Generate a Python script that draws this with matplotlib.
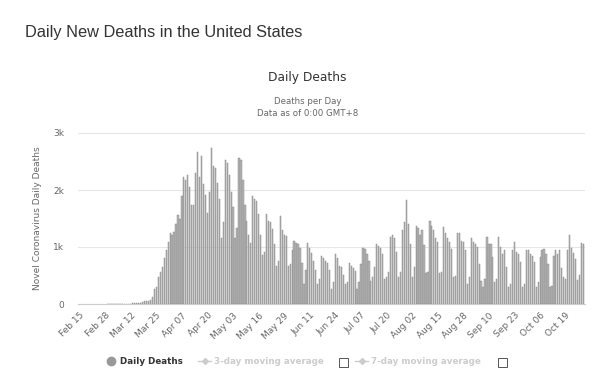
import matplotlib
matplotlib.use("Agg")
import matplotlib.pyplot as plt
import numpy as np
from matplotlib.lines import Line2D
from matplotlib.patches import Rectangle

# daily deaths, Feb 15 2020 (Sat) then one row per week Sun..Sat, ending Oct 28
first_day = [0]
weeks = [
    [0, 0, 0, 0, 0, 0, 0],
    [0, 0, 0, 0, 0, 0, 1],
    [1, 5, 1, 4, 1, 2, 3],
    [4, 4, 3, 7, 7, 10, 10],
    [12, 18, 23, 40, 56, 49, 46],
    [70, 130, 260, 300, 480, 570, 650],
    [800, 950, 1090, 1240, 1210, 1270, 1400],
    [1560, 1500, 1900, 2230, 2170, 2260, 2060],
    [1740, 1740, 2300, 2670, 2230, 2590, 2100],
    [1910, 1600, 1970, 2740, 2420, 2390, 2120],
    [1850, 1160, 1430, 2530, 2470, 2260, 1960],
    [1700, 1160, 1340, 2560, 2530, 2180, 1740],
    [1450, 1210, 1070, 1900, 1840, 1810, 1580],
    [1210, 860, 920, 1580, 1460, 1430, 1310],
    [1050, 670, 760, 1540, 1300, 1210, 1190],
    [670, 700, 950, 1110, 1070, 1050, 990],
    [720, 350, 590, 1070, 990, 900, 760],
    [590, 350, 440, 840, 810, 760, 720],
    [590, 260, 380, 880, 810, 670, 650],
    [510, 350, 380, 720, 670, 640, 580],
    [260, 380, 700, 990, 960, 880, 760],
    [410, 470, 650, 1050, 1020, 990, 880],
    [440, 470, 560, 1180, 1210, 1150, 920],
    [470, 560, 1300, 1440, 1825, 1400, 1050],
    [470, 650, 1370, 1330, 1210, 1300, 1040],
    [540, 570, 1460, 1370, 1300, 1150, 1090],
    [540, 570, 1350, 1250, 1150, 1090, 970],
    [470, 500, 1240, 1240, 1110, 1090, 940],
    [350, 470, 1150, 1090, 1060, 1000, 700],
    [410, 300, 440, 1180, 1060, 1060, 820],
    [380, 440, 1170, 1000, 880, 940, 650],
    [290, 350, 940, 1090, 920, 880, 730],
    [290, 350, 940, 940, 880, 850, 730],
    [290, 380, 820, 940, 970, 880, 700],
    [290, 320, 850, 940, 880, 940, 640],
    [470, 440, 950, 1210, 990, 900, 790],
]
last_days = [420, 510, 1070, 1050]

tick_labels = ["Feb 15", "Feb 28", "Mar 12", "Mar 25", "Apr 07", "Apr 20",
               "May 03", "May 16", "May 29", "Jun 11", "Jun 24", "Jul 07",
               "Jul 20", "Aug 02", "Aug 15", "Aug 28", "Sep 10", "Sep 23",
               "Oct 06", "Oct 19"]
y_ticks = [0, 1000, 2000, 3000]
y_tick_labels = ["0", "1k", "2k", "3k"]

daily_deaths = first_day + [v for week in weeks for v in week] + last_days
days = np.arange(len(daily_deaths))

W, H = 600, 389
fig = plt.figure(figsize=(W / 100, H / 100), dpi=100)
fig.patch.set_facecolor("white")


def fx(px):
    return px / W


def fy(py):
    return 1 - py / H


ax = fig.add_axes([fx(78), fy(304), fx(585) - fx(78), fy(133) - fy(304)])
edge_widths = [0.35 if v > 0 else 0 for v in daily_deaths]
ax.bar(days, daily_deaths, width=0.62, color="#b4b4b4",
       edgecolor="#8c8c8c", linewidth=edge_widths, zorder=3)
ax.set_xlim(-0.8, len(daily_deaths) - 0.2)
ax.set_ylim(0, 3000)

ax.set_yticks(y_ticks)
ax.set_yticklabels(y_tick_labels)
ax.yaxis.grid(True, color="#e6e6e6", linewidth=0.8, zorder=0)
ax.set_xticks(days[::13][:len(tick_labels)])
ax.set_xticklabels(tick_labels, rotation=45, ha="right", va="top",
                   rotation_mode="anchor")
ax.tick_params(axis="y", length=0, pad=10, labelsize=6.5, labelcolor="#666666")
ax.tick_params(axis="x", length=0, pad=5, labelsize=6.5, labelcolor="#666666")
for side in ["top", "right", "left"]:
    ax.spines[side].set_visible(False)
ax.spines["bottom"].set_color("#cccccc")
ax.spines["bottom"].set_linewidth(0.8)
ax.set_ylabel("Novel Coronavirus Daily Deaths", fontsize=6.5, color="#666666",
              labelpad=8)

fig.text(fx(25), fy(32), "Daily New Deaths in the United States",
         fontsize=11.8, family="Liberation Sans", color="#333333",
         ha="left", va="center")
fig.text(fx(307), fy(78), "Daily Deaths", fontsize=8.8, color="#333333",
         ha="center", va="center")
fig.text(fx(308), fy(102), "Deaths per Day", fontsize=6.2, color="#666666",
         ha="center", va="center")
fig.text(fx(308), fy(114), "Data as of 0:00 GMT+8", fontsize=6.2,
         color="#666666", ha="center", va="center")

# legend
fig.add_artist(Line2D([fx(111)], [fy(361)], marker="o", markersize=6,
                      color="#999999", linestyle="none"))
fig.text(fx(120), fy(361), "Daily Deaths", fontsize=6.3, fontweight="bold",
         color="#333333", ha="left", va="center")
for x0, label, box in [(198, "3-day moving average", 343),
                       (355, "7-day moving average", 502)]:
    fig.add_artist(Line2D([fx(x0), fx(x0 + 13)], [fy(361), fy(361)],
                          color="#cccccc", linewidth=1))
    fig.add_artist(Line2D([fx(x0 + 6.5)], [fy(361)], marker="D",
                          markersize=3, color="#cccccc", linestyle="none"))
    fig.text(fx(x0 + 16), fy(361), label, fontsize=6.3, fontweight="bold",
             color="#cccccc", ha="left", va="center")
    fig.add_artist(Rectangle((fx(box - 4.5), fy(367)), fx(9), 9 / H,
                             facecolor="white", edgecolor="#555555",
                             linewidth=0.7, transform=fig.transFigure))

fig.savefig("out.png", dpi=100)
